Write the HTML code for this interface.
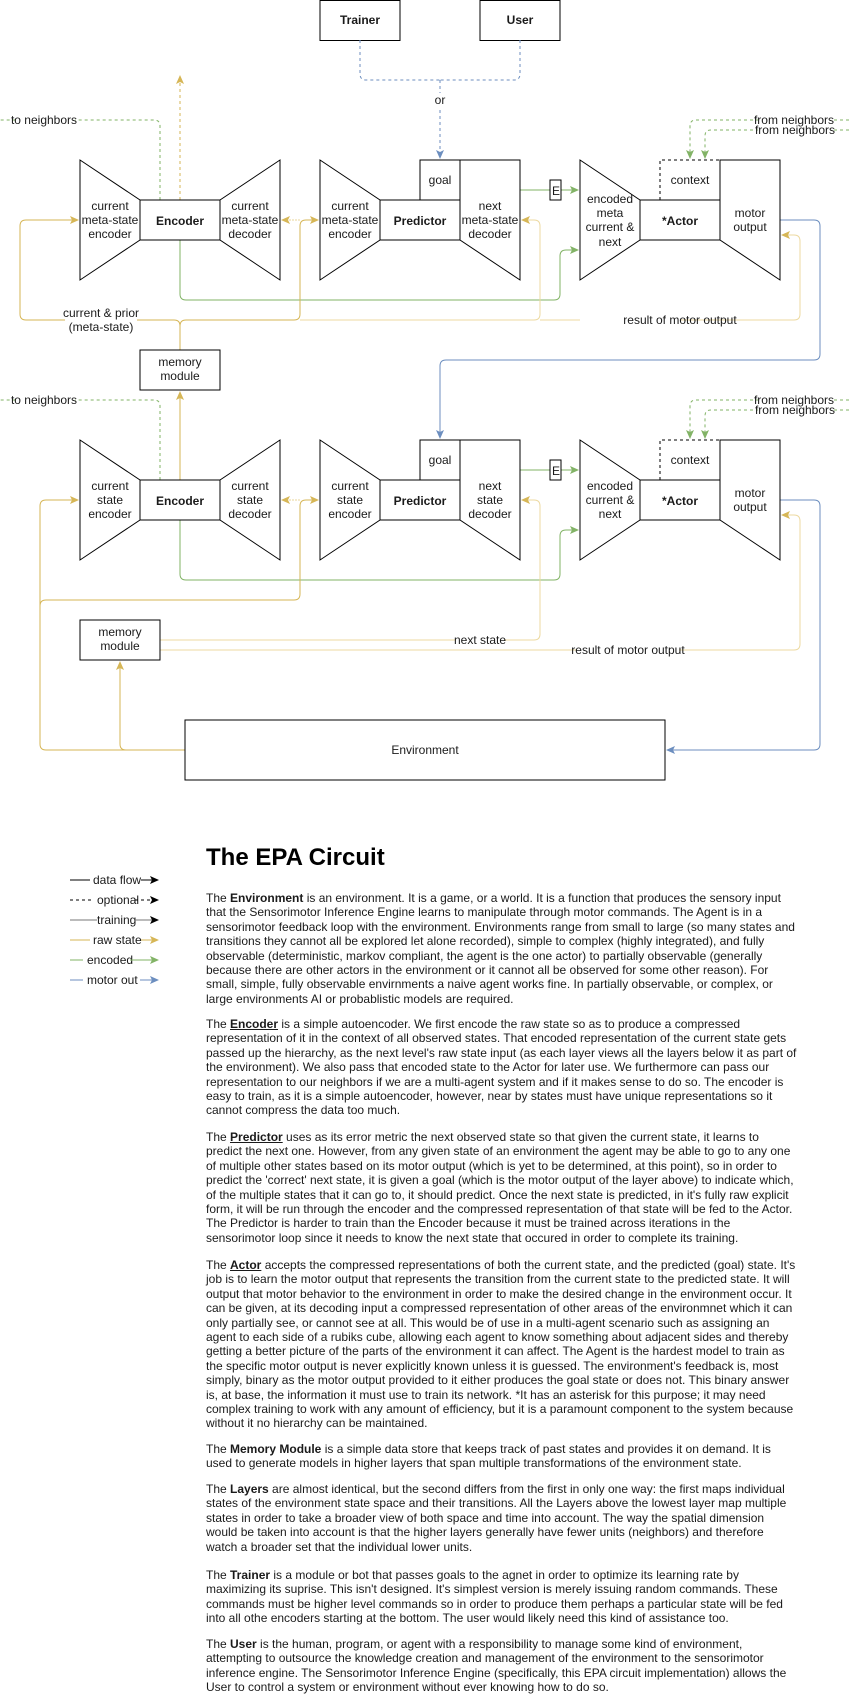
<!DOCTYPE html>
<html><head><meta charset="utf-8">
<style>
html,body{margin:0;padding:0;background:#fff;}
body{width:849px;height:1702px;position:relative;overflow:hidden;font-family:"Liberation Sans",Arial,sans-serif;color:#1a1a1a;}
svg{position:absolute;left:0;top:0;}
svg text{font-family:"Liberation Sans",Arial,sans-serif;font-size:12px;fill:#1a1a1a;}
.p{position:absolute;left:206px;font-size:12px;line-height:14.4px;white-space:nowrap;color:#1a1a1a;}
.p b{font-weight:bold;}
h1{position:absolute;left:206px;top:843px;margin:0;font-size:24px;font-weight:bold;line-height:30px;color:#000;}
</style></head><body>
<svg width="849" height="1000" viewBox="0 0 849 1000">
<defs>
<marker id="ak" markerWidth="10" markerHeight="10" refX="8" refY="5" orient="auto" markerUnits="userSpaceOnUse"><path d="M0,1 L9,5 L0,9 L2,5 Z" fill="#000"/></marker>
<marker id="ay" markerWidth="10" markerHeight="10" refX="8" refY="5" orient="auto" markerUnits="userSpaceOnUse"><path d="M0,1 L9,5 L0,9 L2,5 Z" fill="#d6b656"/></marker>
<marker id="ag" markerWidth="10" markerHeight="10" refX="8" refY="5" orient="auto" markerUnits="userSpaceOnUse"><path d="M0,1 L9,5 L0,9 L2,5 Z" fill="#82b366"/></marker>
<marker id="ab" markerWidth="10" markerHeight="10" refX="8" refY="5" orient="auto" markerUnits="userSpaceOnUse"><path d="M0,1 L9,5 L0,9 L2,5 Z" fill="#6c8ebf"/></marker>
<marker id="agr" markerWidth="10" markerHeight="10" refX="8" refY="5" orient="auto" markerUnits="userSpaceOnUse"><path d="M0,1 L9,5 L0,9 L2,5 Z" fill="#000"/></marker>
</defs>

<!-- Trainer / User -->
<rect x="320" y="0.5" width="80" height="40" fill="#fff" stroke="#000"/>
<text x="360" y="24" text-anchor="middle" font-weight="bold">Trainer</text>
<rect x="480" y="0.5" width="80" height="40" fill="#fff" stroke="#000"/>
<text x="520" y="24" text-anchor="middle" font-weight="bold">User</text>
<g fill="none" stroke="#6c8ebf" stroke-dasharray="3,3">
<path d="M360,40 V74 Q360,80 366,80 H440"/>
<path d="M520,40 V74 Q520,80 514,80 H440"/>
<path d="M440,80 V158" marker-end="url(#ab)"/>
</g>
<rect x="432" y="93" width="16" height="14" fill="#fff"/>
<text x="440" y="104" text-anchor="middle" font-size="11">or</text>

<!-- ===== connectors layer 1 ===== -->
<g fill="none" stroke-width="1">
<path d="M160,200 V126 Q160,120 154,120 H0" stroke="#82b366" stroke-dasharray="3,3"/>
<path d="M180,200 V76" stroke="#d6b656" stroke-dasharray="3,3" marker-end="url(#ay)"/>
<path d="M180,240 V294 Q180,300 186,300 H554 Q560,300 560,294 V256 Q560,250 566,250 H578" stroke="#82b366" marker-end="url(#ag)"/>
<path d="M520,190 H578" stroke="#82b366" marker-end="url(#ag)"/>
<path d="M849,120 H696 Q690,120 690,126 V158" stroke="#82b366" stroke-dasharray="3,3" marker-end="url(#ag)"/>
<path d="M849,130 H711 Q705,130 705,136 V158" stroke="#82b366" stroke-dasharray="3,3" marker-end="url(#ag)"/>
<path d="M780,220 H814 Q820,220 820,226 V354 Q820,360 814,360 H446 Q440,360 440,366 V438" stroke="#6c8ebf" marker-end="url(#ab)"/>
<path d="M180,350 V326 Q180,320 174,320 H26 Q20,320 20,314 V226 Q20,220 26,220 H78" stroke="#d6b656" marker-end="url(#ay)"/>
<path d="M180,326 Q180,320 186,320 H294 Q300,320 300,314 V226 Q300,220 306,220 H318" stroke="#d6b656" marker-end="url(#ay)"/>
<path d="M300,220 H282" stroke="#e8d59a" stroke-dasharray="2,1" marker-end="url(#ay)"/>
<path d="M300,320 H534 Q540,320 540,314 V226 Q540,220 534,220 H522" stroke="#ecd9a0" marker-end="url(#ay)"/>
<path d="M540,320 H794 Q800,320 800,314 V241 Q800,235 794,235 H782" stroke="#ecd9a0" marker-end="url(#ay)"/>
</g>
<rect x="17" y="114" width="58" height="12" fill="#fff"/>
<text x="44" y="124" text-anchor="middle" font-size="11">to neighbors</text>
<rect x="758" y="114" width="74" height="22" fill="#fff"/>
<text x="794" y="124" text-anchor="middle" font-size="11">from neighbors</text>
<text x="795" y="134" text-anchor="middle" font-size="11">from neighbors</text>
<rect x="65" y="306" width="72" height="26" fill="#fff"/>
<text x="101" y="317" text-anchor="middle" font-size="11">current &amp; prior</text>
<text x="101" y="331" text-anchor="middle" font-size="11">(meta-state)</text>
<rect x="580" y="314" width="100" height="12" fill="#fff"/>
<text x="630" y="324" text-anchor="middle" font-size="11" dx="50">result of motor output</text>

<!-- ===== shapes layer 1 ===== -->
<g fill="#fff" stroke="#000" stroke-width="1">
<polygon points="80,160 140,200 140,240 80,280"/>
<rect x="140" y="200" width="80" height="40"/>
<polygon points="220,200 280,160 280,280 220,240"/>
<polygon points="320,160 380,200 380,240 320,280"/>
<rect x="380" y="200" width="80" height="40"/>
<rect x="420" y="160" width="40" height="40"/>
<polygon points="460,160 520,160 520,280 460,240"/>
<rect x="550" y="180" width="11" height="20"/>
<polygon points="580,160 640,200 640,240 580,280"/>
<rect x="640" y="200" width="80" height="40"/>
<polygon points="720,160 780,160 780,280 720,240"/>
<rect x="140" y="350" width="80" height="40"/>
</g>
<path d="M660,200 V160 H720" fill="none" stroke="#000" stroke-dasharray="3,3"/>
<g text-anchor="middle">
<text x="110" y="210">current</text><text x="110" y="224">meta-state</text><text x="110" y="238">encoder</text>
<text x="180" y="225" font-weight="bold" font-size="13">Encoder</text>
<text x="250" y="210">current</text><text x="250" y="224">meta-state</text><text x="250" y="238">decoder</text>
<text x="350" y="210">current</text><text x="350" y="224">meta-state</text><text x="350" y="238">encoder</text>
<text x="420" y="225" font-weight="bold" font-size="13">Predictor</text>
<text x="440" y="184">goal</text>
<text x="490" y="210">next</text><text x="490" y="224">meta-state</text><text x="490" y="238">decoder</text>
<text x="556" y="195">E</text>
<text x="610" y="203">encoded</text><text x="610" y="217">meta</text><text x="610" y="231">current &amp;</text><text x="610" y="246">next</text>
<text x="680" y="225" font-weight="bold" font-size="13">*Actor</text>
<text x="690" y="184">context</text>
<text x="750" y="217">motor</text><text x="750" y="231">output</text>
<text x="180" y="366">memory</text><text x="180" y="380">module</text>
</g>

<!-- ===== connectors layer 2 ===== -->
<g fill="none">
<path d="M180,480 V392" stroke="#d6b656" marker-end="url(#ay)"/>
<path d="M160,480 V406 Q160,400 154,400 H0" stroke="#82b366" stroke-dasharray="3,3"/>
<path d="M180,520 V574 Q180,580 186,580 H554 Q560,580 560,574 V536 Q560,530 566,530 H578" stroke="#82b366" marker-end="url(#ag)"/>
<path d="M520,470 H578" stroke="#82b366" marker-end="url(#ag)"/>
<path d="M849,400 H696 Q690,400 690,406 V438" stroke="#82b366" stroke-dasharray="3,3" marker-end="url(#ag)"/>
<path d="M849,410 H711 Q705,410 705,416 V438" stroke="#82b366" stroke-dasharray="3,3" marker-end="url(#ag)"/>
<path d="M780,500 H814 Q820,500 820,506 V744 Q820,750 814,750 H667" stroke="#6c8ebf" marker-end="url(#ab)"/>
<path d="M185,750 H46 Q40,750 40,744 V506 Q40,500 46,500 H78" stroke="#d6b656" marker-end="url(#ay)"/>
<path d="M185,750 H126 Q120,750 120,744 V662" stroke="#d6b656" marker-end="url(#ay)"/>
<path d="M40,606 Q40,600 46,600 H294 Q300,600 300,594 V506 Q300,500 306,500 H318" stroke="#d6b656" marker-end="url(#ay)"/>
<path d="M300,500 H282" stroke="#e8d59a" stroke-dasharray="2,1" marker-end="url(#ay)"/>
<path d="M160,640 H534 Q540,640 540,634 V506 Q540,500 534,500 H522" stroke="#ecd9a0" marker-end="url(#ay)"/>
<path d="M160,650 H794 Q800,650 800,644 V521 Q800,515 794,515 H782" stroke="#ecd9a0" marker-end="url(#ay)"/>
</g>
<rect x="17" y="394" width="58" height="12" fill="#fff"/>
<text x="44" y="404" text-anchor="middle" font-size="11">to neighbors</text>
<rect x="758" y="394" width="74" height="22" fill="#fff"/>
<text x="794" y="404" text-anchor="middle" font-size="11">from neighbors</text>
<text x="795" y="414" text-anchor="middle" font-size="11">from neighbors</text>
<rect x="456" y="634" width="48" height="12" fill="#fff"/>
<text x="480" y="644" text-anchor="middle" font-size="11">next state</text>
<rect x="577" y="644" width="102" height="12" fill="#fff"/>
<text x="628" y="654" text-anchor="middle" font-size="11">result of motor output</text>

<!-- ===== shapes layer 2 ===== -->
<g fill="#fff" stroke="#000" stroke-width="1">
<polygon points="80,440 140,480 140,520 80,560"/>
<rect x="140" y="480" width="80" height="40"/>
<polygon points="220,480 280,440 280,560 220,520"/>
<polygon points="320,440 380,480 380,520 320,560"/>
<rect x="380" y="480" width="80" height="40"/>
<rect x="420" y="440" width="40" height="40"/>
<polygon points="460,440 520,440 520,560 460,520"/>
<rect x="550" y="460" width="11" height="20"/>
<polygon points="580,440 640,480 640,520 580,560"/>
<rect x="640" y="480" width="80" height="40"/>
<polygon points="720,440 780,440 780,560 720,520"/>
<rect x="80" y="620" width="80" height="40"/>
<rect x="185" y="720" width="480" height="60"/>
</g>
<path d="M660,480 V440 H720" fill="none" stroke="#000" stroke-dasharray="3,3"/>
<g text-anchor="middle">
<text x="110" y="490">current</text><text x="110" y="504">state</text><text x="110" y="518">encoder</text>
<text x="180" y="505" font-weight="bold" font-size="13">Encoder</text>
<text x="250" y="490">current</text><text x="250" y="504">state</text><text x="250" y="518">decoder</text>
<text x="350" y="490">current</text><text x="350" y="504">state</text><text x="350" y="518">encoder</text>
<text x="420" y="505" font-weight="bold" font-size="13">Predictor</text>
<text x="440" y="464">goal</text>
<text x="490" y="490">next</text><text x="490" y="504">state</text><text x="490" y="518">decoder</text>
<text x="556" y="475">E</text>
<text x="610" y="490">encoded</text><text x="610" y="504">current &amp;</text><text x="610" y="518">next</text>
<text x="680" y="505" font-weight="bold" font-size="13">*Actor</text>
<text x="690" y="464">context</text>
<text x="750" y="497">motor</text><text x="750" y="511">output</text>
<text x="120" y="636">memory</text><text x="120" y="650">module</text>
<text x="425" y="754">Environment</text>
</g>

<!-- ===== legend ===== -->
<g font-size="11">
<line x1="70" y1="880" x2="90" y2="880" stroke="#000"/><text x="93" y="884">data flow</text>
<line x1="141" y1="880" x2="158" y2="880" stroke="#000" marker-end="url(#ak)"/>
<line x1="70" y1="900" x2="92" y2="900" stroke="#000" stroke-dasharray="3,3"/><text x="97" y="904">optional</text>
<line x1="135" y1="900" x2="158" y2="900" stroke="#000" stroke-dasharray="3,3" marker-end="url(#ak)"/>
<line x1="70" y1="920" x2="97" y2="920" stroke="#777"/><text x="97" y="924">training</text>
<line x1="134" y1="920" x2="158" y2="920" stroke="#777" marker-end="url(#ak)"/>
<line x1="70" y1="940" x2="90" y2="940" stroke="#d6b656"/><text x="93" y="944">raw state</text>
<line x1="141" y1="940" x2="158" y2="940" stroke="#d6b656" marker-end="url(#ay)"/>
<line x1="70" y1="960" x2="83" y2="960" stroke="#82b366"/><text x="87" y="964">encoded</text>
<line x1="130" y1="960" x2="158" y2="960" stroke="#82b366" marker-end="url(#ag)"/>
<line x1="70" y1="980" x2="83" y2="980" stroke="#6c8ebf"/><text x="87" y="984">motor out</text>
<line x1="140" y1="980" x2="158" y2="980" stroke="#6c8ebf" marker-end="url(#ab)"/>
</g>
</svg>

<h1>The EPA Circuit</h1>

<div class="p" style="top:891px">The <b>Environment</b> is an environment. It is a game, or a world. It is a function that produces the sensory input<br>that the Sensorimotor Inference Engine learns to manipulate through motor commands. The Agent is in a<br>sensorimotor feedback loop with the environment. Environments range from small to large (so many states and<br>transitions they cannot all be explored let alone recorded), simple to complex (highly integrated), and fully<br>observable (deterministic, markov compliant, the agent is the one actor) to partially observable (generally<br>because there are other actors in the environment or it cannot all be observed for some other reason). For<br>small, simple, fully observable envirnments a naive agent works fine. In partially observable, or complex, or<br>large environments AI or probablistic models are required.</div>

<div class="p" style="top:1017px">The <b><u>Encoder</u></b> is a simple autoencoder. We first encode the raw state so as to produce a compressed<br>representation of it in the context of all observed states. That encoded representation of the current state gets<br>passed up the hierarchy, as the next level's raw state input (as each layer views all the layers below it as part of<br>the environment). We also pass that encoded state to the Actor for later use. We furthermore can pass our<br>representation to our neighbors if we are a multi-agent system and if it makes sense to do so. The encoder is<br>easy to train, as it is a simple autoencoder, however, near by states must have unique representations so it<br>cannot compress the data too much.</div>

<div class="p" style="top:1130px">The <b><u>Predictor</u></b> uses as its error metric the next observed state so that given the current state, it learns to<br>predict the next one. However, from any given state of an environment the agent may be able to go to any one<br>of multiple other states based on its motor output (which is yet to be determined, at this point), so in order to<br>predict the 'correct' next state, it is given a goal (which is the motor output of the layer above) to indicate which,<br>of the multiple states that it can go to, it should predict. Once the next state is predicted, in it's fully raw explicit<br>form, it will be run through the encoder and the compressed representation of that state will be fed to the Actor.<br>The Predictor is harder to train than the Encoder because it must be trained across iterations in the<br>sensorimotor loop since it needs to know the next state that occured in order to complete its training.</div>

<div class="p" style="top:1258px">The <b><u>Actor</u></b> accepts the compressed representations of both the current state, and the predicted (goal) state. It's<br>job is to learn the motor output that represents the transition from the current state to the predicted state. It will<br>output that motor behavior to the environment in order to make the desired change in the environment occur. It<br>can be given, at its decoding input a compressed representation of other areas of the environmnet which it can<br>only partially see, or cannot see at all. This would be of use in a multi-agent scenario such as assigning an<br>agent to each side of a rubiks cube, allowing each agent to know something about adjacent sides and thereby<br>getting a better picture of the parts of the environment it can affect. The Agent is the hardest model to train as<br>the specific motor output is never explicitly known unless it is guessed. The environment's feedback is, most<br>simply, binary as the motor output provided to it either produces the goal state or does not. This binary answer<br>is, at base, the information it must use to train its network. *It has an asterisk for this purpose; it may need<br>complex training to work with any amount of efficiency, but it is a paramount component to the system because<br>without it no hierarchy can be maintained.</div>

<div class="p" style="top:1442px">The <b>Memory Module</b> is a simple data store that keeps track of past states and provides it on demand. It is<br>used to generate models in higher layers that span multiple transformations of the environment state.</div>

<div class="p" style="top:1482px">The <b>Layers</b> are almost identical, but the second differs from the first in only one way: the first maps individual<br>states of the environment state space and their transitions. All the Layers above the lowest layer map multiple<br>states in order to take a broader view of both space and time into account. The way the spatial dimension<br>would be taken into account is that the higher layers generally have fewer units (neighbors) and therefore<br>watch a broader set that the individual lower units.</div>

<div class="p" style="top:1568px">The <b>Trainer</b> is a module or bot that passes goals to the agnet in order to optimize its learning rate by<br>maximizing its suprise. This isn't designed. It's simplest version is merely issuing random commands. These<br>commands must be higher level commands so in order to produce them perhaps a particular state will be fed<br>into all othe encoders starting at the bottom. The user would likely need this kind of assistance too.</div>

<div class="p" style="top:1637px">The <b>User</b> is the human, program, or agent with a responsibility to manage some kind of environment,<br>attempting to outsource the knowledge creation and management of the environment to the sensorimotor<br>inference engine. The Sensorimotor Inference Engine (specifically, this EPA circuit implementation) allows the<br>User to control a system or environment without ever knowing how to do so.</div>
</body></html>
